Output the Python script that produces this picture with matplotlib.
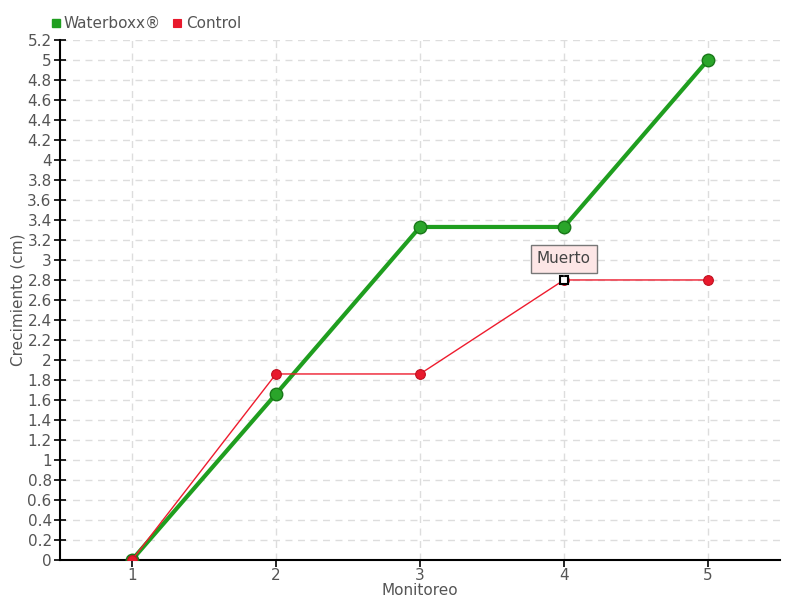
import matplotlib
matplotlib.use("Agg")
import matplotlib.pyplot as plt

monitoreo = [1, 2, 3, 4, 5]
waterboxx = [0, 1.66, 3.33, 3.33, 5.0]
control = [0, 1.86, 1.86, 2.8, 2.8]
yticks = [round(0.2 * i, 1) for i in range(27)]

txt = "#555555"
plt.rcParams["font.family"] = ["DejaVu Sans"]

fig = plt.figure(figsize=(8, 6), dpi=100)
ax = fig.add_axes([0.075, 0.0667, 0.9, 0.8667])

ax.plot(monitoreo, waterboxx, color="#1f9e1f", lw=3, marker="o", ms=9,
        mfc="#2aa52a", mec="#187818", mew=1, zorder=3, label="Waterboxx®")
ax.plot(monitoreo, control, color="#ee1c2e", lw=1, marker="o", ms=7,
        mfc="#e8192c", mec="#c01020", mew=0.8, zorder=4, label="Control")
# dead marker
ax.plot([monitoreo[3]], [control[3]], marker="s", ms=6, mfc="white",
        mec="black", mew=1.5, ls="none", zorder=5)
ax.annotate("Muerto", xy=(monitoreo[3], control[3] + 0.04), xytext=(monitoreo[3], 3.01),
            ha="center", va="center", fontsize=11, color="#444444",
            bbox=dict(boxstyle="square,pad=0.4", fc="#fde6e6", ec="#777777", lw=1),
            arrowprops=dict(arrowstyle="-", color="#777777", lw=1), zorder=6)

ax.set_xlim(0.5, 5.5)
ax.set_ylim(0, 5.2)
ax.set_xticks(monitoreo)
ax.set_yticks(yticks)
ax.set_yticklabels([("%g" % v) for v in yticks])
ax.grid(True, color="#dddddd", ls=(0, (5, 4)), lw=1)
ax.set_axisbelow(True)

for s in ["top", "right"]:
    ax.spines[s].set_visible(False)
for s in ["left", "bottom"]:
    ax.spines[s].set_color("black")
    ax.spines[s].set_linewidth(1.5)
ax.tick_params(axis="y", direction="inout", length=8, width=1.2, colors="black",
               labelcolor=txt, labelsize=11, pad=2)
ax.tick_params(axis="x", direction="out", length=5, width=1.2, colors="black",
               labelcolor=txt, labelsize=11, pad=1)

ax.set_ylabel("Crecimiento (cm)", color=txt, fontsize=11, labelpad=1)
ax.set_xlabel("Monitoreo", color=txt, fontsize=11, labelpad=0)

ax.legend(loc="lower left", bbox_to_anchor=(-0.02, 1.005), ncol=2, frameon=False,
          fontsize=11, labelcolor=txt, handlelength=0.5, handletextpad=0.3,
          columnspacing=0.8, borderaxespad=0)
leg = ax.get_legend()
for h, c in zip(leg.legend_handles, ["#1f9e1f", "#e8192c"]):
    h.set_linestyle("none")
    h.set_marker("s")
    h.set_markersize(6)
    h.set_markerfacecolor(c)
    h.set_markeredgecolor(c)

fig.savefig("out.png", dpi=100)
